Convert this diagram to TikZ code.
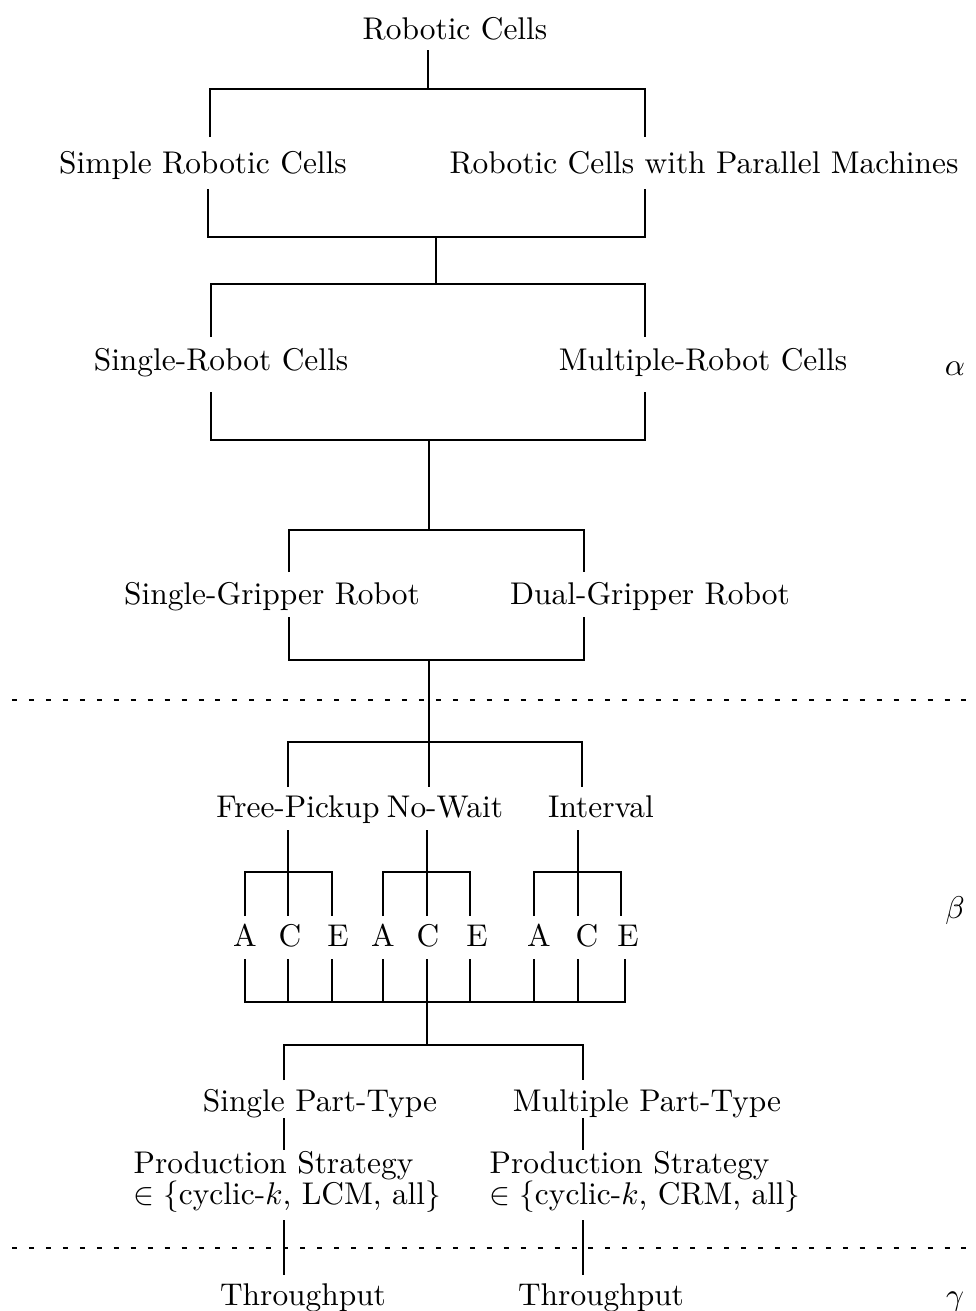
\documentclass[tikz,border=0pt]{standalone}
\begin{document}
\begin{tikzpicture}[x=0.3185pt,y=-0.3185pt,
  lbl/.style={inner sep=0pt, anchor=base},
  lblw/.style={inner sep=0pt, anchor=north west, align=left},
  conn/.style={line width=0.6pt},
  sepline/.style={line width=0.6pt, dash pattern=on 1.6pt off 3.8pt}]
\useasboundingbox (0,0) rectangle (976,1311);
% labels
\node[lbl] (rc)  at (455,39)  {Robotic Cells};
\node[lbl] (src) at (203,173) {Simple Robotic Cells};
\node[lbl] (pm)  at (704,173) {Robotic Cells with Parallel Machines};
\node[lbl] (sr)  at (221,370) {Single-Robot Cells};
\node[lbl] (mr)  at (703,370) {Multiple-Robot Cells};
\node[lbl] (al)  at (955,375) {$\alpha$};
\node[lbl] (sg)  at (272,604) {Single-Gripper Robot};
\node[lbl] (dg)  at (650,604) {Dual-Gripper Robot};
\node[lbl] (fp)  at (298,817) {Free-Pickup};
\node[lbl] (nw)  at (445,817) {No-Wait};
\node[lbl] (iv)  at (601,817) {Interval};
\node[lbl] (a1) at (245,946) {A};
\node[lbl] (c1) at (290,946) {C};
\node[lbl] (e1) at (338,946) {E};
\node[lbl] (a2) at (383,946) {A};
\node[lbl] (c2) at (428,946) {C};
\node[lbl] (e2) at (477,946) {E};
\node[lbl] (a3) at (539,946) {A};
\node[lbl] (c3) at (587,946) {C};
\node[lbl] (e3) at (628,946) {E};
\node[lbl] (be) at (955,918) {$\beta$};
\node[lbl] (spt) at (320,1111) {Single Part-Type};
\node[lbl] (mpt) at (647,1111) {Multiple Part-Type};
\node[lblw] (ps1) at (133,1151) {Production Strategy\\[-2.2pt]$\in\{$cyclic-$k$, LCM, all$\}$};
\node[lblw] (ps2) at (489,1151) {Production Strategy\\[-2.2pt]$\in\{$cyclic-$k$, CRM, all$\}$};
\node[lbl] (tp1) at (303,1305) {Throughput};
\node[lbl] (tp2) at (601,1305) {Throughput};
\node[lbl] (ga)  at (955,1305) {$\gamma$};
% separators
\draw[sepline] (12,700) -- (976,700);
\draw[sepline] (12,1248) -- (976,1248);
% tree lines
\draw[conn] (428,50) -- (428,89);
\draw[conn] (210,137) -- (210,89) -- (645,89) -- (645,137);
\draw[conn] (208,189) -- (208,237) -- (645,237) -- (645,189);
\draw[conn] (436,237) -- (436,284);
\draw[conn] (211,337) -- (211,284) -- (645,284) -- (645,337);
\draw[conn] (211,392) -- (211,440) -- (645,440) -- (645,392);
\draw[conn] (429,440) -- (429,530);
\draw[conn] (289,572) -- (289,530) -- (584,530) -- (584,572);
\draw[conn] (289,617) -- (289,660) -- (584,660) -- (584,617);
\draw[conn] (429,660) -- (429,787);
\draw[conn] (288,787) -- (288,742) -- (582,742) -- (582,787);
% A C E groups
\draw[conn] (288,830) -- (288,916);
\draw[conn] (245,916) -- (245,872) -- (332,872) -- (332,916);
\draw[conn] (427,830) -- (427,916);
\draw[conn] (383,916) -- (383,872) -- (470,872) -- (470,916);
\draw[conn] (578,830) -- (578,916);
\draw[conn] (534,916) -- (534,872) -- (621,872) -- (621,916);
\foreach \xx in {288,332,383,427,470,534,578} \draw[conn] (\xx,959) -- (\xx,1002);
\draw[conn] (245,959) -- (245,1002) -- (625,1002) -- (625,959);
\draw[conn] (427,1002) -- (427,1045);
\draw[conn] (284,1080) -- (284,1045) -- (583,1045) -- (583,1080);
\draw[conn] (284,1118) -- (284,1150);
\draw[conn] (583,1118) -- (583,1150);
\draw[conn] (284,1220) -- (284,1275);
\draw[conn] (583,1220) -- (583,1275);
\end{tikzpicture}
\end{document}
